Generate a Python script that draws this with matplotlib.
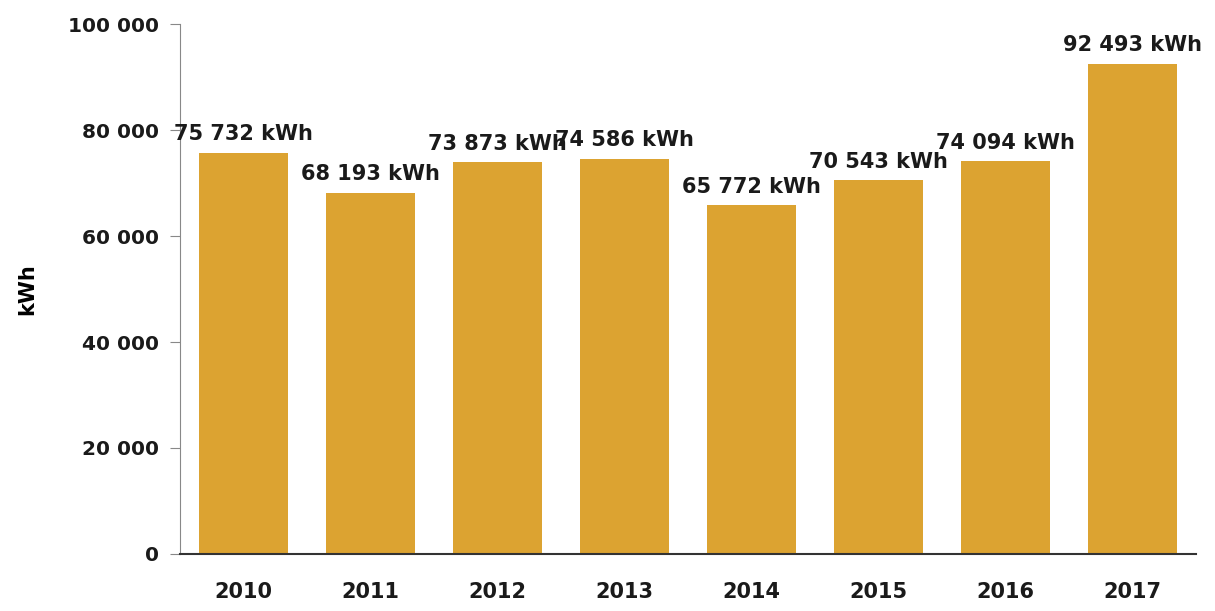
import matplotlib
matplotlib.use("Agg")
import matplotlib.pyplot as plt
from matplotlib.ticker import FuncFormatter

years = ["2010", "2011", "2012", "2013", "2014", "2015", "2016", "2017"]
energy_kwh = [75732, 68193, 73873, 74586, 65772, 70543, 74094, 92493]
y_ticks = [0, 20000, 40000, 60000, 80000, 100000]


def spaced(v):
    return f"{int(v):,}".replace(",", " ")


fig = plt.figure(figsize=(12.15, 6.11), dpi=100)
ax = fig.add_axes([0.148, 0.0933, 0.836, 0.8674])

x = range(len(years))
bars = ax.bar(x, energy_kwh, width=0.7, color="#DCA331", zorder=2)

for xi, v in zip(x, energy_kwh):
    ax.annotate(f"{spaced(v)} kWh", (xi, v), xytext=(0, 6), textcoords="offset points",
                ha="center", va="bottom", fontsize=15, fontweight="bold", color="#1a1a1a")

ax.set_xlim(-0.5, len(years) - 0.5)
ax.set_ylim(0, 100000)
ax.set_yticks(y_ticks)
ax.yaxis.set_major_formatter(FuncFormatter(lambda v, p: spaced(v)))
ax.set_xticks(list(x))
ax.set_xticklabels(years)

ax.tick_params(axis="y", length=7, color="#888888", labelsize=14.5, pad=8)
ax.tick_params(axis="x", length=0, labelsize=15, pad=20)
for lab in ax.get_xticklabels() + ax.get_yticklabels():
    lab.set_fontweight("bold")
    lab.set_color("#1a1a1a")

ax.spines["top"].set_visible(False)
ax.spines["right"].set_visible(False)
ax.spines["left"].set_color("#888888")
ax.spines["bottom"].set_color("#333333")
ax.spines["bottom"].set_linewidth(1.5)

ax.set_ylabel("kWh", fontsize=15, fontweight="bold", labelpad=22)

fig.savefig("out.png", dpi=100)
